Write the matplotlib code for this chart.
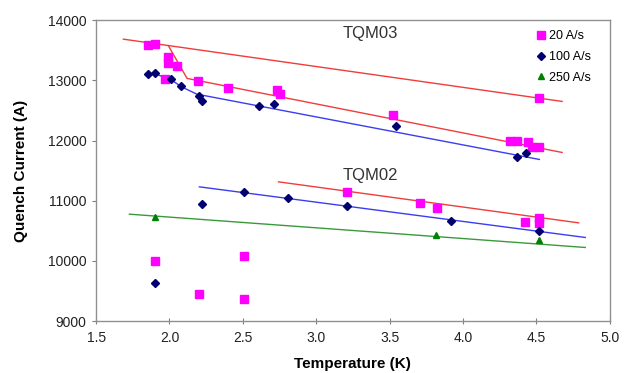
import numpy as np
import matplotlib
matplotlib.use('Agg')
import matplotlib.pyplot as plt

plt.rcParams['font.family'] = ['Liberation Sans', 'DejaVu Sans']

# measured points
t20 = [1.854, 1.902, 1.99, 1.99, 2.05, 1.97, 2.195, 2.40, 2.73, 2.75, 3.52,
       4.32, 4.37, 4.44, 4.47, 4.52, 4.52,
       3.21, 3.71, 3.82, 4.42, 4.52, 4.52,
       1.90, 2.20, 2.51, 2.51]
i20 = [13585, 13601, 13385, 13286, 13236, 13020, 12987, 12870, 12837, 12771, 12422,
       11990, 11990, 11973, 11890, 11890, 12704,
       11138, 10955, 10872, 10645, 10706, 10623,
       10002, 9443, 10080, 9365]

t100 = [1.857, 1.90, 2.01, 2.08, 2.20, 2.22, 2.61, 2.71, 3.54, 4.37, 4.43,
        2.225, 2.51, 2.81, 3.21, 3.918, 4.52, 1.90]
i100 = [13103, 13115, 13020, 12900, 12738, 12660, 12571, 12605, 12239, 11719, 11785,
        10944, 11148, 11048, 10916, 10656, 10500, 9626]

t250 = [1.902, 3.818, 4.52]
i250 = [10733, 10429, 10345]

# fit lines
tqm03_top_t = [1.686, 4.675]
tqm03_top_i = [13684, 12650]
tqm03_red_t = [1.993, 2.12, 4.675]
tqm03_red_i = [13573, 13032, 11802]
tqm03_blue_t = [1.925, 2.0, 2.08, 2.186, 4.52]
tqm03_blue_i = [13086, 13030, 12895, 12771, 11686]
tqm02_red_t = [2.743, 4.788]
tqm02_red_i = [11314, 10633]
tqm02_blue_t = [2.204, 4.833]
tqm02_blue_i = [11231, 10390]
tqm02_green_t = [1.727, 4.833]
tqm02_green_i = [10777, 10224]

fig = plt.figure(figsize=(6.28, 3.73), dpi=100)
ax = fig.add_axes([0.153, 0.139, 0.818, 0.807])

red = '#f03c3c'
blue = '#3c3cf0'
green = '#3a9a3a'
ax.plot(tqm03_top_t, tqm03_top_i, color=red, lw=1)
ax.plot(tqm03_red_t, tqm03_red_i, color=red, lw=1)
ax.plot(tqm03_blue_t, tqm03_blue_i, color=blue, lw=1)
ax.plot(tqm02_red_t, tqm02_red_i, color=red, lw=1)
ax.plot(tqm02_blue_t, tqm02_blue_i, color=blue, lw=1)
ax.plot(tqm02_green_t, tqm02_green_i, color=green, lw=1)

ax.plot(t20, i20, ls='none', marker='s', ms=5.5, color='#ff00ff', mec='#ff00ff', label='20 A/s')
ax.plot(t100, i100, ls='none', marker='D', ms=3.8, color='#000070', mec='#000070', label='100 A/s')
ax.plot(t250, i250, ls='none', marker='^', ms=5, color='#008000', mec='#008000', label='250 A/s')

ax.text(3.37, 13770, 'TQM03', fontsize=12, color='#333333', ha='center', va='center')
ax.text(3.37, 11425, 'TQM02', fontsize=12, color='#333333', ha='center', va='center')

ax.set_xlim(1.5, 5.0)
ax.set_ylim(9000, 14000)
ax.set_xticks(np.arange(1.5, 5.01, 0.5))
ax.set_xticklabels(['%.1f' % v for v in np.arange(1.5, 5.01, 0.5)])
ax.set_yticks(np.arange(9000, 14001, 1000))
ax.tick_params(axis='x', direction='inout', length=4, color='#808080', labelsize=10, labelcolor='#222222', pad=5)
ax.tick_params(axis='y', direction='out', length=3, color='#808080', labelsize=10, labelcolor='#222222', pad=4)
for s in ax.spines.values():
    s.set_color('#909090')
    s.set_linewidth(1)

ax.set_xlabel('Temperature (K)', fontsize=11, fontweight='bold', labelpad=9)
ax.set_ylabel('Quench Current (A)', fontsize=11, fontweight='bold', labelpad=14)

ax.legend(loc='upper left', bbox_to_anchor=(0.84, 1.0), frameon=False, fontsize=9,
          handlelength=0.6, handletextpad=0.3, labelspacing=0.7, borderpad=0.3)

fig.savefig('out.png', dpi=100)
